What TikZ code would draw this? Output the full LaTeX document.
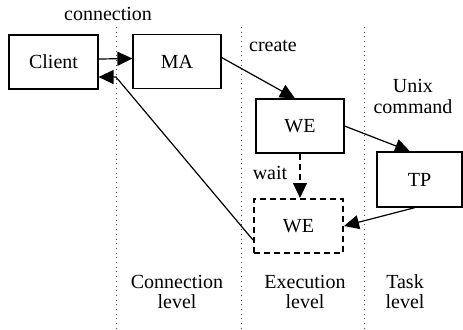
\documentclass[tikz,border=0pt]{standalone}
\usepackage{fontspec}
\setmainfont{Liberation Serif}
\newfontfamily\tnr{Liberation Serif}
\usetikzlibrary{arrows.meta}
\begin{document}
\begin{tikzpicture}[x=0.5pt,y=-0.5pt,
  box/.style={draw,line width=0.6pt,rectangle,inner sep=0pt,minimum height=27pt,font=\tnr\fontsize{10}{12}\selectfont},
  dbox/.style={box,line width=1pt,dash pattern=on 3pt off 2pt},
  lbl/.style={inner sep=0pt,font=\tnr\fontsize{10}{12}\selectfont},
  arr/.style={line width=0.6pt,-{Triangle[length=7.5pt,width=7pt]}},
  sep/.style={line width=0.35pt,dotted,black!70}]
\clip (0,0) rectangle (463,329);
\fill[white] (0,0) rectangle (463,329);
% level separators
\coordinate (s1t) at (116,27); \coordinate (s1b) at (116,329);
\coordinate (s2t) at (241,27); \coordinate (s2b) at (241,329);
\coordinate (s3t) at (364,27); \coordinate (s3b) at (364,329);
\draw[sep] (s1t) -- (s1b);
\draw[sep] (s2t) -- (s2b);
\draw[sep] (s3t) -- (s3b);
% boxes
\node[box,minimum width=44.5pt] (client) at (53.5,62) {Client};
\node[box,minimum width=44pt] (ma) at (177,61.5) {MA};
\node[box,minimum width=44pt] (we) at (300,126) {WE};
\node[dbox,minimum width=44.5pt] (we2) at (298.5,226) {WE};
\node[box,minimum width=42.5pt,minimum height=27.5pt] (tp) at (419.5,179.5) {TP};
% labels
\node[lbl] (lconn) at (108,14) {connection};
\node[lbl] (lcreate) at (273,46) {create};
\node[lbl] (lwait) at (270,173) {wait};
\node[lbl] (lunix) at (413,86) {Unix};
\node[lbl] (lcmd) at (413,107) {command};
\node[lbl] (c1) at (177,282) {Connection};
\node[lbl] (c2) at (177,302) {level};
\node[lbl] (e1) at (305,282) {Execution};
\node[lbl] (e2) at (305,302) {level};
\node[lbl] (t1) at (405,282) {Task};
\node[lbl] (t2) at (405,302) {level};
% connectors
\coordinate (bend) at (116,77);
\draw[arr] ([yshift=1.5pt]client.east) -- ([yshift=1.5pt]ma.west);
\draw[arr] ([yshift=-7pt]we2.west) -- (bend) -- ([yshift=-7.5pt]client.east);
\draw[arr] ([yshift=2pt]ma.east) -- ([xshift=-2.5pt]we.north);
\draw[arr] (we.east) -- ([xshift=-4.75pt]tp.north);
\draw[arr,dash pattern=on 3pt off 2pt] (we.south) -- (we.south |- we2.north);
\draw[arr] ([xshift=-2.25pt]tp.south) -- (we2.east);
\end{tikzpicture}
\end{document}
